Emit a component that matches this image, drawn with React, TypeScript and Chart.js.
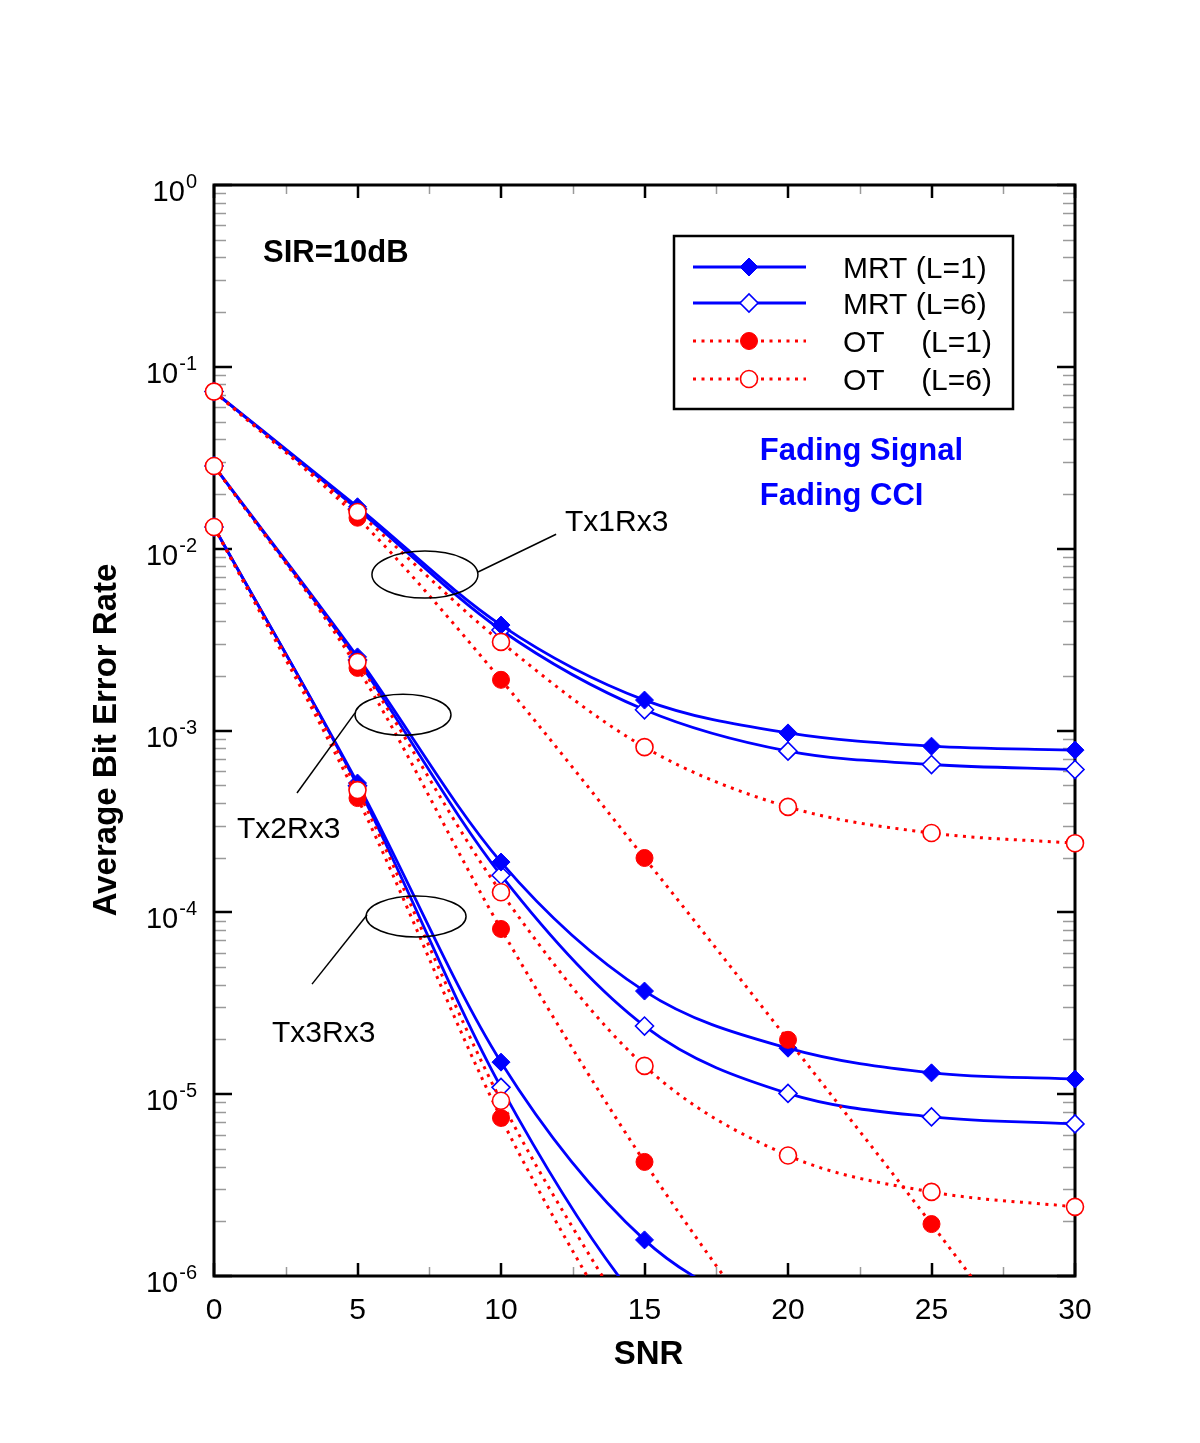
import React, { useEffect, useRef } from 'react';
import { Chart, registerables } from 'chart.js';

Chart.register(...registerables);

// ---------- data ----------
const snr = [0, 5, 10, 15, 20, 25, 30];

// Tx1Rx3
const tx1MrtL1 = [0.0731, 0.0170, 0.00380, 0.00147, 0.00097, 0.00082, 0.00078];
const tx1MrtL6 = [0.0731, 0.0165, 0.00357, 0.00130, 0.00077, 0.00065, 0.00061];
const tx1OtL1 = [0.0731, 0.0148, 0.00190, 0.000199, 0.0000199, 0.00000193, 0.00000017];
const tx1OtL6 = [0.0731, 0.0159, 0.00307, 0.00081, 0.00038, 0.000273, 0.00024];

// Tx2Rx3
const tx2MrtL1 = [0.0285, 0.00254, 0.000189, 0.0000369, 0.0000179, 0.0000131, 0.0000121];
const tx2MrtL6 = [0.0285, 0.00244, 0.000160, 0.0000237, 0.0000101, 0.0000075, 0.00000686];
const tx2OtL1 = [0.0285, 0.00221, 0.0000810, 0.00000424, 0.00000032, null, null];
const tx2OtL6 = [0.0285, 0.00238, 0.000129, 0.0000143, 0.0000046, 0.0000029, 0.0000024];

// Tx3Rx3
const tx3MrtL1 = [0.01315, 0.000514, 0.0000150, 0.00000158, 0.00000053, null, null];
const tx3MrtL6 = [0.01315, 0.000497, 0.0000109, 0.00000066, 0.00000015, null, null];
const tx3OtL1 = [0.01315, 0.000425, 0.0000074, 0.00000028, null, null, null];
const tx3OtL6 = [0.01315, 0.00047, 0.0000092, 0.00000041, null, null, null];

const xTickValues = [0, 5, 10, 15, 20, 25, 30];
const xMinorValues = [2.5, 7.5, 12.5, 17.5, 22.5, 27.5];
const yExponents = [0, -1, -2, -3, -4, -5, -6];

const legendLabels = ['MRT (L=1)', 'MRT (L=6)', 'OT', 'OT'];
const legendSuffix = ['', '', '(L=1)', '(L=6)'];

const groupNames = ['Tx1Rx3', 'Tx2Rx3', 'Tx3Rx3'];
// annotation anchors in data coordinates: ellipse centre, leader start, leader end, text (left, baseline)
const ellipseCenters = [[7.35, 0.0072], [6.585, 0.00122], [7.04, 0.0000948]];
const ellipseRadii = [[53, 23.5], [48, 20.5], [50, 20.5]];
const leaderFrom = [[9.2, 0.00744], [4.913, 0.00125], [5.33, 0.0000967]];
const leaderTo = [[11.92, 0.012], [2.892, 0.000453], [3.415, 0.0000403]];
const groupTextPos = [[12.23, 0.0125], [0.8, 0.000256], [2.02, 0.0000194]];

const sirText = 'SIR=10dB';
const sirPos = [1.707, 0.377];
const fadingTexts = ['Fading Signal', 'Fading CCI'];
const fadingPos = [[19.02, 0.0307], [19.02, 0.0174]];

const BLUE = '#0000ff';
const RED = '#ff0000';
const FONT = '"Liberation Sans", Arial, Helvetica, sans-serif';

type Kind = 'mrt1' | 'mrt6' | 'ot1' | 'ot6';

function makeDataset(values: (number | null)[], kind: Kind) {
  const pts = snr
    .map((x, i) => ({ x, y: values[i] }))
    .filter((p) => p.y !== null) as { x: number; y: number }[];
  const isMrt = kind === 'mrt1' || kind === 'mrt6';
  const filled = kind === 'mrt1' || kind === 'ot1';
  const col = isMrt ? BLUE : RED;
  return {
    data: pts,
    borderColor: col,
    borderWidth: isMrt ? 2.8 : 3,
    borderDash: isMrt ? [] : [3, 5.5],
    borderCapStyle: 'butt',
    fill: false,
    tension: 0.4,
    cubicInterpolationMode: 'monotone',
    capBezierPoints: false,
    pointStyle: isMrt ? 'rectRot' : 'circle',
    pointRadius: isMrt ? 9 : 8.5,
    pointBorderWidth: filled ? 1 : 1.6,
    pointBackgroundColor: filled ? col : '#ffffff',
    pointBorderColor: col,
    order: isMrt ? 1 : 0,
    clip: { left: 20, right: 20, top: 20, bottom: 0 },
  };
}

function drawMarker(ctx: CanvasRenderingContext2D, kind: Kind, x: number, y: number) {
  const isMrt = kind === 'mrt1' || kind === 'mrt6';
  const filled = kind === 'mrt1' || kind === 'ot1';
  const col = isMrt ? BLUE : RED;
  ctx.save();
  ctx.setLineDash([]);
  ctx.beginPath();
  if (isMrt) {
    const r = 9;
    ctx.moveTo(x - r, y);
    ctx.lineTo(x, y - r);
    ctx.lineTo(x + r, y);
    ctx.lineTo(x, y + r);
    ctx.closePath();
  } else {
    ctx.arc(x, y, 8.5, 0, Math.PI * 2);
  }
  ctx.fillStyle = filled ? col : '#ffffff';
  ctx.fill();
  ctx.lineWidth = filled ? 1 : 1.6;
  ctx.strokeStyle = col;
  ctx.stroke();
  ctx.restore();
}

const decorPlugin = {
  id: 'decor',
  beforeDatasetsDraw(chart: any) {
    const { ctx, chartArea: a, scales } = chart;
    const xs = scales.x;
    const ys = scales.y;
    ctx.save();
    ctx.lineCap = 'butt';
    // minor y ticks
    ctx.strokeStyle = '#9a9a9a';
    ctx.lineWidth = 1.5;
    for (let e = -6; e < 0; e++) {
      for (let k = 2; k <= 9; k++) {
        const py = Math.round(ys.getPixelForValue(k * Math.pow(10, e))) + 0.5;
        ctx.beginPath();
        ctx.moveTo(a.left, py);
        ctx.lineTo(a.left + 12, py);
        ctx.moveTo(a.right, py);
        ctx.lineTo(a.right - 12, py);
        ctx.stroke();
      }
    }
    // minor x ticks
    xMinorValues.forEach((v) => {
      const px = Math.round(xs.getPixelForValue(v)) + 0.5;
      ctx.beginPath();
      ctx.moveTo(px, a.bottom);
      ctx.lineTo(px, a.bottom - 9);
      ctx.moveTo(px, a.top);
      ctx.lineTo(px, a.top + 9);
      ctx.stroke();
    });
    // major ticks
    ctx.strokeStyle = '#000';
    ctx.lineWidth = 2.5;
    yExponents.forEach((e) => {
      const py = Math.round(ys.getPixelForValue(Math.pow(10, e)));
      ctx.beginPath();
      ctx.moveTo(a.left, py);
      ctx.lineTo(a.left + 18, py);
      ctx.moveTo(a.right, py);
      ctx.lineTo(a.right - 18, py);
      ctx.stroke();
    });
    xTickValues.forEach((v) => {
      const px = Math.round(xs.getPixelForValue(v));
      ctx.beginPath();
      ctx.moveTo(px, a.bottom);
      ctx.lineTo(px, a.bottom - 13);
      ctx.moveTo(px, a.top);
      ctx.lineTo(px, a.top + 13);
      ctx.stroke();
    });
    // frame
    ctx.lineWidth = 3;
    ctx.strokeRect(a.left, a.top, a.right - a.left, a.bottom - a.top);

    // y tick labels (10^e)
    ctx.fillStyle = '#000';
    ctx.textBaseline = 'alphabetic';
    yExponents.forEach((e) => {
      const py = ys.getPixelForValue(Math.pow(10, e));
      const sup = String(e);
      ctx.font = `20px ${FONT}`;
      const supW = ctx.measureText(sup).width;
      const right = a.left - 17;
      ctx.textAlign = 'right';
      ctx.fillText(sup, right, py + 3);
      ctx.font = `29px ${FONT}`;
      ctx.fillText('10', right - supW - 1, py + 16);
    });
    // x tick labels
    ctx.font = `30px ${FONT}`;
    ctx.textAlign = 'center';
    xTickValues.forEach((v) => {
      ctx.fillText(String(v), xs.getPixelForValue(v), a.bottom + 43);
    });
    // axis titles
    ctx.font = `bold 33px ${FONT}`;
    ctx.fillText('SNR', (a.left + a.right) / 2 + 4, a.bottom + 88);
    ctx.save();
    ctx.translate(116, 740);
    ctx.rotate(-Math.PI / 2);
    ctx.textAlign = 'center';
    ctx.fillText('Average Bit Error Rate', 0, 0);
    ctx.restore();
    ctx.restore();
  },
  afterDatasetsDraw(chart: any) {
    const { ctx, chartArea: a, scales } = chart;
    const xs = scales.x;
    const ys = scales.y;
    const P = (p: number[]) => [xs.getPixelForValue(p[0]), ys.getPixelForValue(p[1])];
    ctx.save();
    // ellipses + leaders + group labels
    ctx.strokeStyle = '#000';
    ctx.lineWidth = 1.5;
    ctx.setLineDash([]);
    groupNames.forEach((name, i) => {
      const [cx, cy] = P(ellipseCenters[i]);
      ctx.beginPath();
      ctx.ellipse(cx, cy, ellipseRadii[i][0], ellipseRadii[i][1], 0, 0, Math.PI * 2);
      ctx.stroke();
      const [fx, fy] = P(leaderFrom[i]);
      const [tx, ty] = P(leaderTo[i]);
      ctx.beginPath();
      ctx.moveTo(fx, fy);
      ctx.lineTo(tx, ty);
      ctx.stroke();
      const [lx, ly] = P(groupTextPos[i]);
      ctx.fillStyle = '#000';
      ctx.font = `30px ${FONT}`;
      ctx.textAlign = 'left';
      ctx.textBaseline = 'alphabetic';
      ctx.fillText(name, lx, ly);
    });
    // SIR text
    ctx.font = `bold 31px ${FONT}`;
    ctx.fillStyle = '#000';
    const [sx, sy] = P(sirPos);
    ctx.fillText(sirText, sx, sy);
    // Fading texts
    ctx.fillStyle = BLUE;
    fadingTexts.forEach((t, i) => {
      const [fx, fy] = P(fadingPos[i]);
      ctx.fillText(t, fx, fy);
    });

    // legend
    const bx = a.right - 401;
    const by = a.top + 51;
    const bw = 339;
    const bh = 173;
    ctx.fillStyle = '#ffffff';
    ctx.fillRect(bx, by, bw, bh);
    ctx.strokeStyle = '#000';
    ctx.lineWidth = 2.5;
    ctx.strokeRect(bx, by, bw, bh);
    const kinds: Kind[] = ['mrt1', 'mrt6', 'ot1', 'ot6'];
    const rowY = [31, 67, 105, 143];
    kinds.forEach((k, i) => {
      const y = by + rowY[i];
      const isMrt = k === 'mrt1' || k === 'mrt6';
      ctx.save();
      ctx.strokeStyle = isMrt ? BLUE : RED;
      ctx.lineWidth = isMrt ? 2.8 : 3;
      ctx.setLineDash(isMrt ? [] : [3, 5.5]);
      ctx.beginPath();
      ctx.moveTo(bx + 19, y);
      ctx.lineTo(bx + 132, y);
      ctx.stroke();
      ctx.restore();
      drawMarker(ctx, k, bx + 75, y);
      ctx.fillStyle = '#000';
      ctx.font = `30px ${FONT}`;
      ctx.textAlign = 'left';
      ctx.fillText(legendLabels[i], bx + 169, y + 11);
      if (legendSuffix[i]) {
        ctx.textAlign = 'right';
        ctx.fillText(legendSuffix[i], bx + 318, y + 11);
      }
    });
    ctx.restore();
  },
};

export default function App() {
  const ref = useRef<HTMLCanvasElement>(null);
  useEffect(() => {
    const canvas = ref.current;
    if (!canvas) return;
    const datasets = [
      makeDataset(tx1OtL6, 'ot6'),
      makeDataset(tx1OtL1, 'ot1'),
      makeDataset(tx2OtL6, 'ot6'),
      makeDataset(tx2OtL1, 'ot1'),
      makeDataset(tx3OtL6, 'ot6'),
      makeDataset(tx3OtL1, 'ot1'),
      makeDataset(tx1MrtL1, 'mrt1'),
      makeDataset(tx1MrtL6, 'mrt6'),
      makeDataset(tx2MrtL1, 'mrt1'),
      makeDataset(tx2MrtL6, 'mrt6'),
      makeDataset(tx3MrtL1, 'mrt1'),
      makeDataset(tx3MrtL6, 'mrt6'),
    ];
    const chart = new Chart(canvas, {
      type: 'line',
      data: { datasets: datasets as any },
      options: {
        animation: false,
        responsive: false,
        devicePixelRatio: 1,
        events: [],
        layout: { padding: { left: 214, top: 185, right: 125, bottom: 167 } },
        plugins: { legend: { display: false }, tooltip: { enabled: false } },
        scales: {
          x: { type: 'linear', min: 0, max: 30, display: false },
          y: { type: 'logarithmic', min: 1e-6, max: 1, display: false },
        },
      } as any,
      plugins: [decorPlugin],
    });
    return () => chart.destroy();
  }, []);
  return (
    <div style={{ position: 'absolute', left: 0, top: 0, width: 1200, height: 1443, background: '#ffffff' }}>
      <canvas ref={ref} width={1200} height={1443} style={{ display: 'block', width: 1200, height: 1443 }} />
    </div>
  );
}
